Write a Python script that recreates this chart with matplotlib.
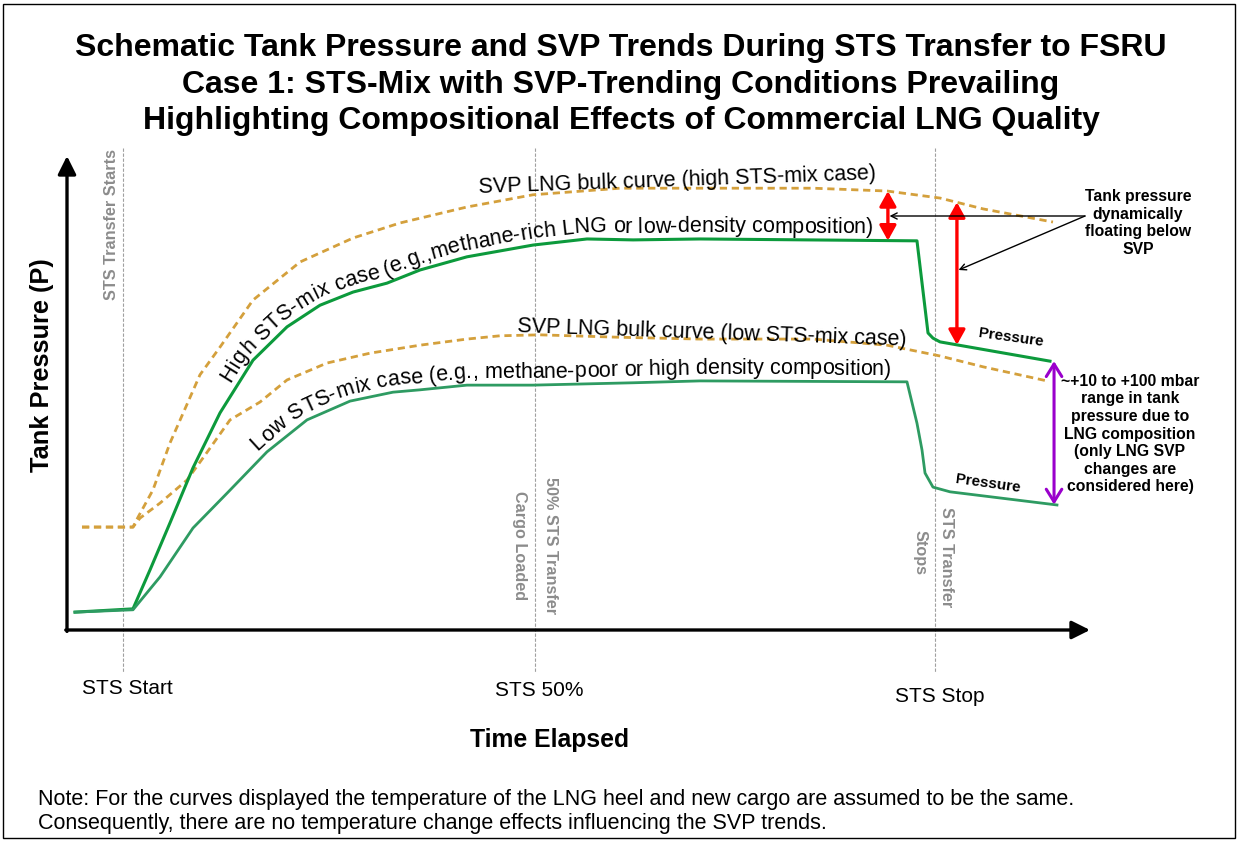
import numpy as np
import matplotlib
matplotlib.use("Agg")
import matplotlib.pyplot as plt
from matplotlib.font_manager import FontProperties
from matplotlib.patches import Rectangle

plt.rcParams['font.family'] = ['Liberation Sans', 'DejaVu Sans']

# schematic data: time (0 = STS start, 100 = STS stop), pressure (arbitrary units)
svp_high_t = [-5.05, 1.23, 1.85, 3.69, 5.79, 9.48, 11.95, 16.01, 21.80, 28.33, 34.11, 42.36,
              50.49, 61.21, 71.06, 84.98, 94.09, 100.62, 105.91, 114.53]
svp_high_p = [21.9, 21.9, 24.0, 29.8, 39.8, 54.3, 60.2, 70.2, 78.3, 83.4, 86.6, 90.0,
              92.6, 94.0, 94.0, 94.0, 93.4, 91.9, 89.6, 86.8]

svp_low_t = [-5.05, 1.23, 2.09, 4.56, 7.88, 10.10, 13.18, 16.87, 20.20, 25.12, 30.42, 36.58,
             42.36, 46.43, 51.35, 60.84, 71.06, 84.98, 94.09, 100.62, 105.91, 113.79]
svp_low_p = [21.9, 21.9, 23.8, 27.0, 31.9, 37.2, 44.7, 48.5, 53.2, 56.8, 58.9, 60.6,
             61.9, 62.6, 62.8, 62.3, 61.9, 61.9, 60.6, 58.3, 56.0, 53.0]

tank_high_t = [-5.91, 1.23, 3.33, 5.79, 8.62, 11.95, 16.01, 20.20, 24.26, 28.33, 32.51, 36.58,
               42.36, 50.49, 57.14, 62.81, 71.06, 97.78, 99.14, 99.75, 100.62, 114.16]
tank_high_p = [3.8, 4.5, 12.8, 22.8, 34.5, 46.2, 57.4, 64.5, 69.1, 71.9, 73.8, 76.6,
               79.4, 81.9, 83.2, 83.0, 83.2, 82.8, 63.2, 62.1, 61.3, 57.2]

tank_low_t = [-5.91, 1.23, 4.56, 8.62, 12.81, 17.73, 22.66, 27.96, 33.25, 36.58, 42.36, 50.49,
              62.81, 71.06, 96.55, 97.78, 98.40, 98.77, 99.75, 101.85, 115.02]
tank_low_p = [3.8, 4.3, 11.3, 21.7, 29.1, 37.9, 44.7, 48.7, 50.6, 51.1, 52.1, 52.1,
              52.6, 53.0, 52.8, 44.0, 38.3, 33.4, 30.4, 29.4, 26.6]

event_t = [0, 50.7, 100]
event_labels = ['STS Start', 'STS 50%', 'STS Stop']
gap_t = [94.2, 102.7]      # red arrows: tank pressure below SVP
range_t = 114.66           # purple arrow: composition range

# layout: pixel mapping of the schematic
W, H = 1238, 842
X0, SX = 123, 8.12     # pixel x of t=0, pixels per time unit
Y0, SY = 630, 4.7      # pixel y of P=0, pixels per pressure unit


def fx(x):
    return x / W


def fy(y):
    return 1 - y / H


fig = plt.figure(figsize=(W / 100, H / 100), dpi=100)
ax = fig.add_axes([0, 0, 1, 1])
ax.set_xlim(-X0 / SX, (W - X0) / SX)
ax.set_ylim(-(H - Y0) / SY, Y0 / SY)
ax.axis('off')

fig.patches.append(Rectangle((fx(3), fy(838)), fx(1232), 834 / H, transform=fig.transFigure,
                             fill=False, lw=1.0, ec='black'))

orange = '#D4A03C'
green_hi = '#0C9A3C'
green_lo = '#2E9B62'
grey = '#8C8C8C'

# event lines
for t in event_t:
    ax.plot([t, t], [102.5, -8.9], color='#A0A0A0', lw=0.8, ls=(0, (3, 1.5)), zorder=1)

# axes arrows
ax_left = (67 - X0) / SX
ax.annotate('', xy=(ax_left, (Y0 - 156) / SY), xytext=(ax_left, -0.3),
            arrowprops=dict(arrowstyle='-|>,head_length=0.5,head_width=0.25', lw=2.4,
                            color='black', mutation_scale=22, shrinkA=0, shrinkB=0))
ax.annotate('', xy=((1090 - X0) / SX, 0), xytext=(ax_left - 0.15, 0),
            arrowprops=dict(arrowstyle='-|>,head_length=0.5,head_width=0.25', lw=2.4,
                            color='black', mutation_scale=22, shrinkA=0, shrinkB=0))

ax.plot(svp_high_t, svp_high_p, color=orange, lw=2.0, dashes=(2.6, 1.7), zorder=3)
ax.plot(svp_low_t, svp_low_p, color=orange, lw=2.0, dashes=(2.6, 1.7), zorder=3)
ax.plot(tank_high_t, tank_high_p, color=green_hi, lw=2.2, zorder=4)
ax.plot(tank_low_t, tank_low_p, color=green_lo, lw=2.0, zorder=4)

# red gap arrows
for t in gap_t:
    ps = np.interp(t, svp_high_t, svp_high_p)
    pt = np.interp(t, tank_high_t, tank_high_p)
    ax.annotate('', xy=(t, ps), xytext=(t, pt),
                arrowprops=dict(arrowstyle='<|-|>,head_length=0.45,head_width=0.25',
                                color='red', lw=2.4, mutation_scale=20, shrinkA=0, shrinkB=0),
                zorder=5)

# purple range arrow
p_top = np.interp(range_t, tank_high_t, tank_high_p)
p_bot = np.interp(range_t, tank_low_t, tank_low_p)
ax.annotate('', xy=(range_t, p_top), xytext=(range_t, p_bot),
            arrowprops=dict(arrowstyle='<->,head_length=0.45,head_width=0.28',
                            color='#9A00CC', lw=2.2, mutation_scale=20, shrinkA=0, shrinkB=0),
            zorder=5)

# pointer arrows to red arrows
src = ((1085 - X0) / SX, (Y0 - 216) / SY)
p_src = src[1]
for t, p in [(gap_t[0], p_src), (gap_t[1], (Y0 - 270) / SY)]:
    ax.annotate('', xy=(t + 0.2, p), xytext=src,
                arrowprops=dict(arrowstyle='->', color='black', lw=1.0, mutation_scale=11,
                                shrinkA=0, shrinkB=0), zorder=6)


def curve_text(xs, ys, s, t0, offset, size):
    r = fig.canvas.get_renderer()
    pts = ax.transData.transform(np.column_stack([xs, ys]))
    seg = np.hypot(*np.diff(pts, axis=0).T)
    arc = np.concatenate([[0], np.cumsum(seg)])
    fp = FontProperties(family=['Liberation Sans', 'DejaVu Sans'], size=size)

    def w(txt):
        return r.get_text_width_height_descent(txt, fp, ismath=False)[0]

    base = w('nn')
    pos = np.interp(t0, xs, arc)
    inv = ax.transData.inverted()
    for ch in s:
        adv = w('n' + ch + 'n') - base
        a, b = pos - 4, pos + adv + 4
        pa = np.array([np.interp(a, arc, pts[:, 0]), np.interp(a, arc, pts[:, 1])])
        pb = np.array([np.interp(b, arc, pts[:, 0]), np.interp(b, arc, pts[:, 1])])
        d = pb - pa
        d = d / np.hypot(*d)
        ang = np.degrees(np.arctan2(d[1], d[0]))
        m = pos + adv / 2
        pm = np.array([np.interp(m, arc, pts[:, 0]), np.interp(m, arc, pts[:, 1])])
        pm = pm + np.array([-d[1], d[0]]) * offset
        ax.text(*inv.transform(pm), ch, rotation=ang, rotation_mode='anchor',
                ha='center', va='baseline', fontproperties=fp, zorder=7)
        pos += adv


curve_text(tank_high_t, tank_high_p,
           'High STS-mix case (e.g.,methane-rich LNG or low-density composition)',
           14.0, 7, 15.5)
curve_text(tank_low_t, tank_low_p,
           'Low STS-mix case (e.g., methane-poor or high density composition)',
           17.2, 7, 15.5)

ax.text((677 - X0) / SX, (Y0 - 181) / SY, 'SVP LNG bulk curve (high STS-mix case)',
        fontsize=15.5, rotation=2, ha='center', va='center', rotation_mode='anchor')
ax.text((712 - X0) / SX, (Y0 - 333) / SY, 'SVP LNG bulk curve (low STS-mix case)',
        fontsize=15.5, rotation=-2, ha='center', va='center', rotation_mode='anchor')
ax.text((1011 - X0) / SX, (Y0 - 338) / SY, 'Pressure', fontsize=11, fontweight='bold',
        rotation=-8, ha='center', va='center', rotation_mode='anchor')
ax.text((988 - X0) / SX, (Y0 - 484) / SY, 'Pressure', fontsize=11, fontweight='bold',
        rotation=-8, ha='center', va='center', rotation_mode='anchor')

fig.text(fx(1138), fy(223), 'Tank pressure\ndynamically\nfloating below\nSVP', fontsize=11.3,
         fontweight='bold', ha='center', va='center', linespacing=1.22)
fig.text(fx(1130), fy(434),
         '~+10 to +100 mbar\nrange in tank\npressure due to\nLNG composition\n(only LNG SVP\n'
         'changes are\nconsidered here)', fontsize=11.3, fontweight='bold', ha='center',
         va='center', linespacing=1.22)

# grey event labels
glab = dict(fontsize=11.7, fontweight='bold', color=grey, ha='center', va='center')
fig.text(fx(112), fy(225), 'STS Transfer Starts', rotation=90, **glab)
fig.text(fx(550), fy(546), '50% STS Transfer', rotation=270, **glab)
fig.text(fx(520), fy(546), 'Cargo Loaded', rotation=270, **glab)
fig.text(fx(947), fy(557), 'STS Transfer', rotation=270, **glab)
fig.text(fx(920), fy(553), 'Stops', rotation=270, **glab)

for t, lab, yy in zip(event_t, event_labels, [689, 691, 696]):
    ax.text(t + 0.6, (Y0 - yy) / SY, lab, fontsize=15, ha='center', va='center')

fig.text(fx(550), fy(740), 'Time Elapsed', fontsize=17.8, fontweight='bold', ha='center',
         va='center')
fig.text(fx(42), fy(365), 'Tank Pressure (P)', fontsize=18.3, fontweight='bold', rotation=90,
         ha='center', va='center')

titles = ['Schematic Tank Pressure and SVP Trends During STS Transfer to FSRU',
          'Case 1: STS-Mix with SVP-Trending Conditions Prevailing',
          'Highlighting Compositional Effects of Commercial LNG Quality']
for line, yy in zip(titles, [48, 85, 121]):
    fig.text(fx(621), fy(yy), line, fontsize=23, fontweight='bold', ha='center', va='center')

fig.text(fx(38), fy(800), 'Note: For the curves displayed the temperature of the LNG heel and new '
         'cargo are assumed to be the same.', fontsize=15.5, ha='left', va='center')
fig.text(fx(38), fy(823), 'Consequently, there are no temperature change effects influencing '
         'the SVP trends.', fontsize=15.5, ha='left', va='center')

fig.savefig('out.png', dpi=100)
